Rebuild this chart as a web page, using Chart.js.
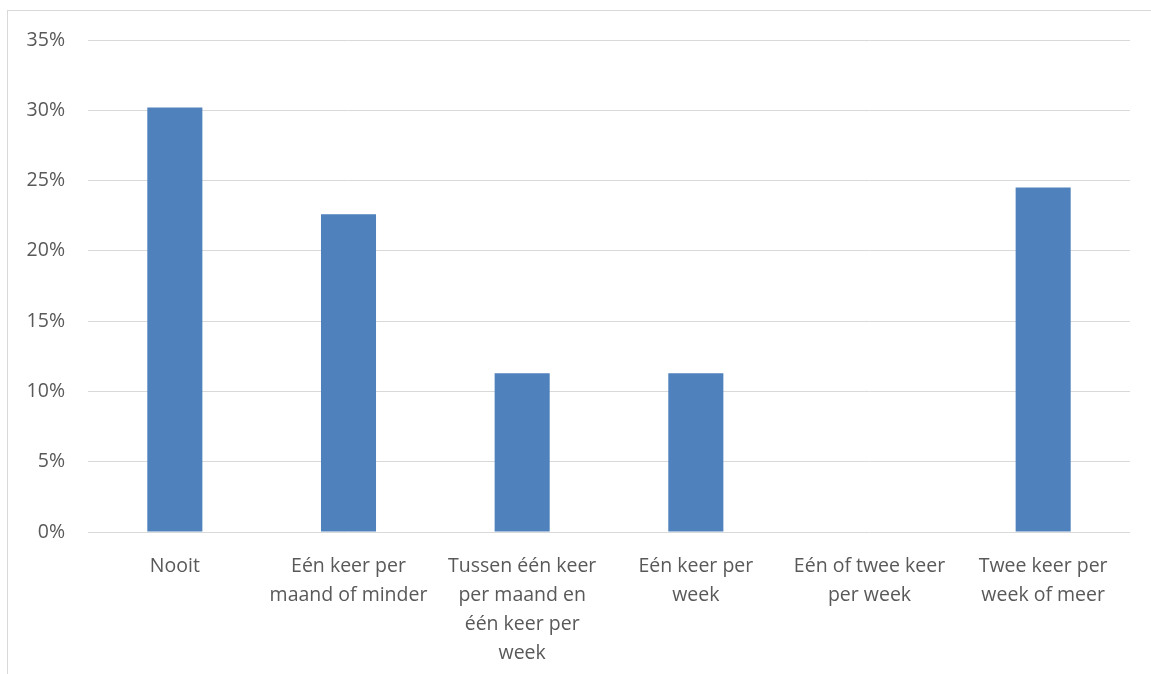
<!DOCTYPE html>
<html>
<head>
<meta charset="utf-8">
<script src="https://cdn.jsdelivr.net/npm/chart.js@4/dist/chart.umd.min.js"></script>
<style>
  html, body { margin: 0; padding: 0; background: #fff; overflow: hidden; }
  #frame { position: absolute; left: 7px; top: 10px; width: 2000px; height: 2000px; border: 1px solid #d9d9d9; box-sizing: border-box; }
  #myChart { position: absolute; left: 0; top: 0; }
</style>
</head>
<body>
<div id="frame"></div>
<canvas id="myChart" width="1151" height="674"></canvas>
<script>
const categories = [
  'Nooit',
  ['Eén keer per', 'maand of minder'],
  ['Tussen één keer', 'per maand en', 'één keer per', 'week'],
  ['Eén keer per', 'week'],
  ['Eén of twee keer', 'per week'],
  ['Twee keer per', 'week of meer']
];
const percentages = [30.2, 22.6, 11.3, 11.3, 0, 24.5];
const yTicks = [0, 5, 10, 15, 20, 25, 30, 35];

const ctx = document.getElementById('myChart').getContext('2d');

new Chart(ctx, {
  type: 'bar',
  data: {
    labels: categories,
    datasets: [{
      data: percentages,
      backgroundColor: '#4f81bd',
      borderWidth: 0,
      barPercentage: 0.317,
      categoryPercentage: 1
    }]
  },
  options: {
    responsive: false,
    animation: false,
    layout: { padding: { top: 40, right: 21, bottom: 0, left: 0 } },
    plugins: { legend: { display: false }, tooltip: { enabled: false } },
    scales: {
      x: {
        grid: { display: false, drawTicks: false },
        border: { display: false },
        ticks: {
          color: '#595959',
          font: { family: 'Open Sans', size: 19.5, lineHeight: '29px' },
          padding: 20,
          maxRotation: 0,
          autoSkip: false
        },
        afterFit: (scale) => { scale.height = 142; }
      },
      y: {
        min: 0,
        max: 35,
        afterBuildTicks: (scale) => { scale.ticks = yTicks.map(v => ({ value: v })); },
        grid: { color: '#d9d9d9', lineWidth: 1, drawTicks: false },
        border: { display: false },
        ticks: {
          color: '#595959',
          font: { family: 'Open Sans', size: 19.5 },
          padding: 23,
          callback: (v) => v + '%'
        },
        afterFit: (scale) => { scale.width = 88; }
      }
    }
  }
});
</script>
</body>
</html>
